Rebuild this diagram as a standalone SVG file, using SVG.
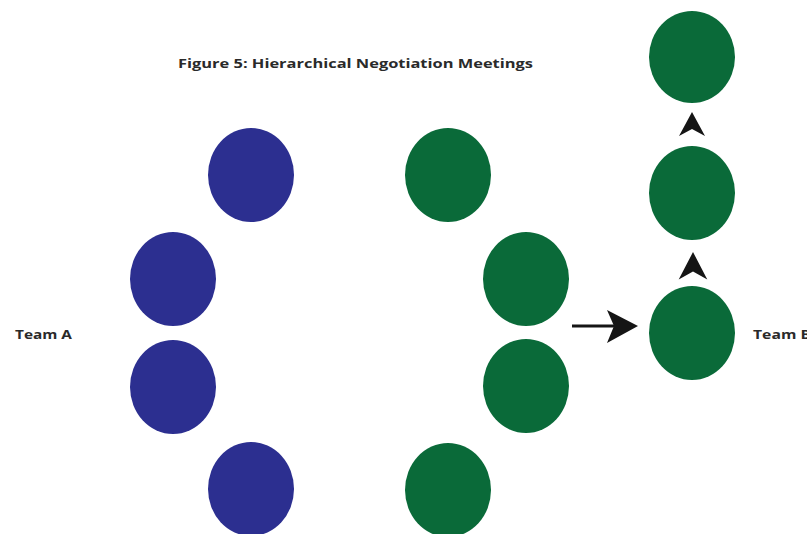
<svg xmlns="http://www.w3.org/2000/svg" xmlns:xlink="http://www.w3.org/1999/xlink" width="807" height="534" viewBox="0 0 807 534">
<style>
.a{fill:#2c2f90}
.b{fill:#0a6a39}
.t{font-family:"Open Sans","Liberation Sans",sans-serif;font-weight:bold;fill:#2a2a2a}
.ah{fill:#151515}
</style>
<defs>
<path id="head" d="M0,0 L13,24 L0,17 L-13,24 Z"/>
</defs>
<rect width="807" height="534" fill="#ffffff"/>
<text class="t" x="178" y="68" font-size="12.5" textLength="355" lengthAdjust="spacingAndGlyphs">Figure 5: Hierarchical Negotiation Meetings</text>
<g id="teamA-label"><text class="t" x="15" y="339" font-size="13" textLength="57" lengthAdjust="spacingAndGlyphs">Team A</text></g>
<g id="teamB-label"><text class="t" x="753" y="339" font-size="13" textLength="58" lengthAdjust="spacingAndGlyphs">Team B</text></g>
<g id="a1"><ellipse class="a" cx="251" cy="175" rx="43" ry="47"/></g>
<g id="a2"><ellipse class="a" cx="173" cy="279" rx="43" ry="47"/></g>
<g id="a3"><ellipse class="a" cx="173" cy="387" rx="43" ry="47"/></g>
<g id="a4"><ellipse class="a" cx="251" cy="489" rx="43" ry="47"/></g>
<g id="g1"><ellipse class="b" cx="448" cy="175" rx="43" ry="47"/></g>
<g id="g2"><ellipse class="b" cx="526" cy="279" rx="43" ry="47"/></g>
<g id="g3"><ellipse class="b" cx="526" cy="386" rx="43" ry="47"/></g>
<g id="g4"><ellipse class="b" cx="448" cy="490" rx="43" ry="47"/></g>
<g id="h1"><ellipse class="b" cx="692" cy="57" rx="43" ry="46"/></g>
<g id="h2"><ellipse class="b" cx="692" cy="193" rx="43" ry="47"/></g>
<g id="h3"><ellipse class="b" cx="692" cy="333" rx="43" ry="47"/></g>
<g id="connectors">
<line x1="572" y1="326" x2="614" y2="326" stroke="#151515" stroke-width="3"/>
<path class="ah" d="M638,326 L607,310 L614,326 L607,343 Z"/>
<use class="ah" xlink:href="#head" transform="translate(692,112)"/>
<use class="ah" xlink:href="#head" transform="translate(693,252) scale(1.1,1.15)"/>
</g>
</svg>
